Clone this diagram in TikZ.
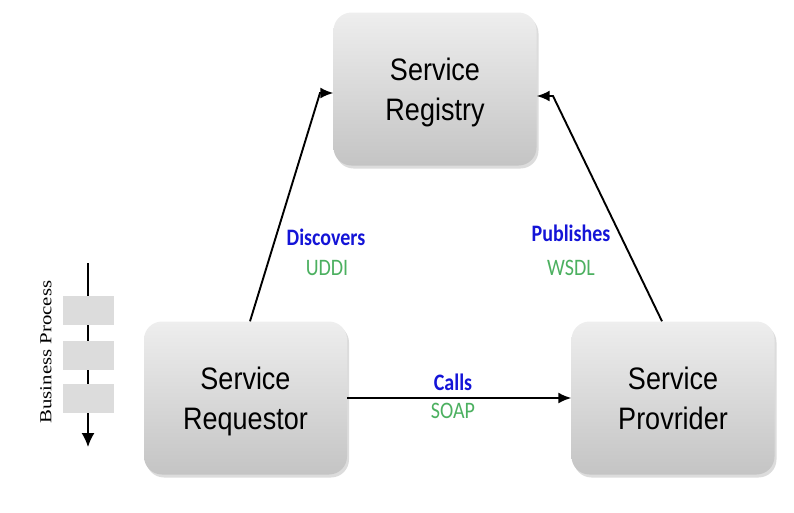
\documentclass[tikz,border=0pt]{standalone}
\usepackage{fontspec}
\setmainfont{Liberation Sans}
\newfontfamily\labelfont{Carlito}
\newfontfamily\sidefont{Liberation Serif}
\usetikzlibrary{arrows.meta,shadows,calc}
\definecolor{boxtop}{RGB}{238,238,238}
\definecolor{boxbottom}{RGB}{196,196,196}
\definecolor{verbblue}{RGB}{20,20,215}
\definecolor{protogreen}{RGB}{76,176,96}
\definecolor{stepgray}{RGB}{220,220,220}
% two-line role title, set a little taller than wide and slightly below centre
\newcommand\roletitle[2]{\raisebox{-3.5pt}[\height][\depth]{\scalebox{1}[1.15]{\begin{tabular}{@{}c@{}}#1\\#2\end{tabular}}}}
\newcommand\tallword[1]{\scalebox{1}[1.18]{#1}}
\begin{document}
\begin{tikzpicture}[x=1pt,y=-1pt,
  rolebox/.style={rectangle, rounded corners=18pt, minimum width=203pt, minimum height=153pt,
    top color=boxtop, bottom color=boxbottom, draw=none, align=center,
    font=\fontsize{27}{35}\selectfont,
    drop shadow={opacity=0.28, shadow xshift=2pt, shadow yshift=-3pt}},
  link/.style={draw=black, line width=1.9pt, -{Latex[length=13pt,width=11pt]}},
  verb/.style={font=\labelfont\bfseries\fontsize{20}{24}\selectfont, text=verbblue},
  proto/.style={font=\labelfont\fontsize{20}{24}\selectfont, text=protogreen},
  stepbox/.style={fill=stepgray, draw=none, minimum width=51pt, minimum height=29pt, inner sep=0pt}
]
\useasboundingbox (0,0) rectangle (794,512);

% the three roles
\node[rolebox] (reg)  at (435,89)    {\roletitle{Service}{Registry}};
\node[rolebox] (req)  at (245.5,398) {\roletitle{Service}{Requestor}};
\node[rolebox] (prov) at (673,398)   {\roletitle{Service}{Provrider}};

% bends just before the registry box
\coordinate (dbend) at (320,93);
\coordinate (pbend) at (553,96);

% connectors
\draw[link] ([xshift=4.5pt]req.north) -- (dbend) -- (dbend -| reg.west);
\draw[link] ([xshift=-11pt]prov.north) -- (pbend) -- (pbend -| reg.east);
\draw[link] (req.east) -- (prov.west);

% connector labels
\node[verb]  (disc) at (326,237) {\tallword{Discovers}};
\node[proto] (uddi) at (327,268) {\tallword{UDDI}};
\node[verb]  (pub)  at (571,233) {\tallword{Publishes}};
\node[proto] (wsdl) at (571,268) {\tallword{WSDL}};
\node[verb]  (call) at (453,382) {\tallword{Calls}};
\node[proto] (soap) at (453,411) {\tallword{SOAP}};

% business process strip
\coordinate (bptop) at (88,263);
\coordinate (bpend) at (88,447);
\draw[line width=1.6pt, -{Latex[length=14pt,width=13pt]}] (bptop) -- (bpend);
\node[stepbox] (s1) at (88.5,310.5) {};
\node[stepbox] (s2) at (88.5,355.5) {};
\node[stepbox] (s3) at (88.5,398)   {};
\node[rotate=90, font=\sidefont\fontsize{16}{18}\selectfont] (bp) at (46,352)
  {\scalebox{1.3}[1.05]{Business Process}};
\end{tikzpicture}
\end{document}
